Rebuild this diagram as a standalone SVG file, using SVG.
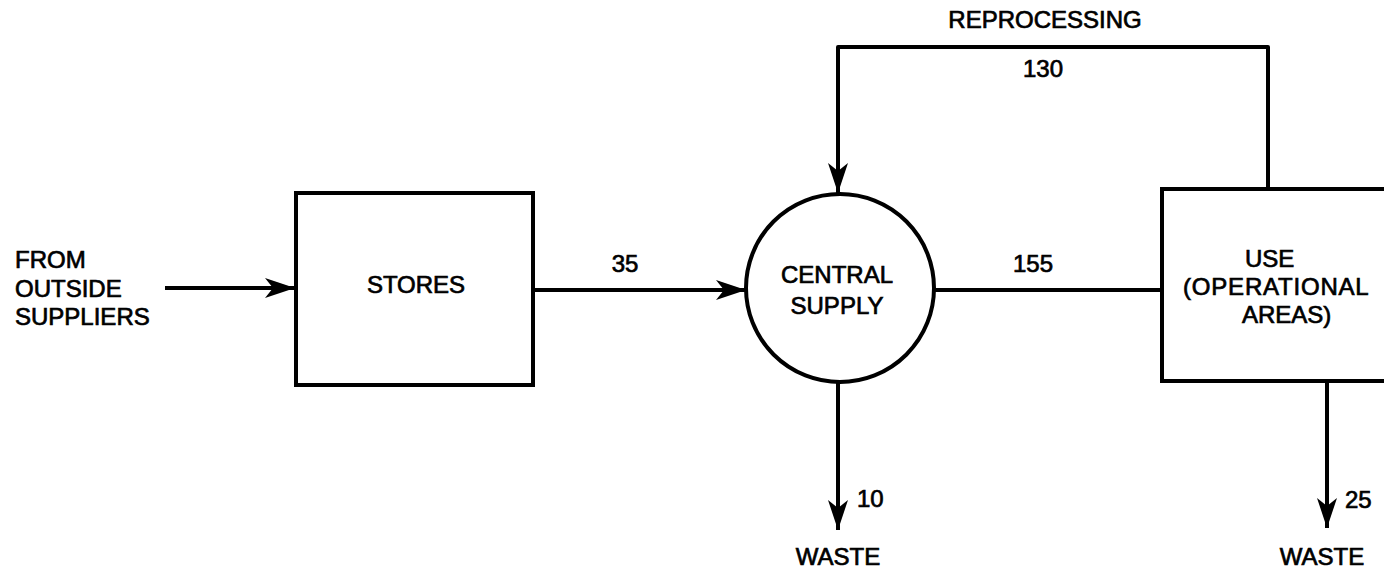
<svg xmlns="http://www.w3.org/2000/svg" width="1384" height="572" viewBox="0 0 1384 572">
<style>
  .ln { fill: none; stroke: #000; stroke-width: 4; stroke-linejoin: round; }
  .nd { fill: #fff; stroke: #000; stroke-width: 4; }
  text { font-family: "Liberation Sans", Arial, sans-serif; font-size: 24px; fill: #000; stroke: #000; stroke-width: 0.7; }
  .c { text-anchor: middle; }
</style>
<defs>
  <marker id="ah" viewBox="0 0 30 20" refX="30" refY="10" markerWidth="30" markerHeight="20" markerUnits="userSpaceOnUse" orient="auto">
    <path d="M0,0 L30,10 L0,20 L8,10 Z" fill="#000"/>
  </marker>
</defs>
<rect width="1384" height="572" fill="#fff"/>
<g id="connectors">
  <path class="ln" d="M165,288 H295" marker-end="url(#ah)"/>
  <path class="ln" d="M533,290 H746" marker-end="url(#ah)"/>
  <path class="ln" d="M932,290 H1162"/>
  <path class="ln" d="M1268,189 V47 H838 V193" marker-end="url(#ah)"/>
  <path class="ln" d="M838,382 V530" marker-end="url(#ah)"/>
  <path class="ln" d="M1327,381 V528" marker-end="url(#ah)"/>
  <text class="c" x="625" y="272">35</text>
  <text class="c" x="1033" y="272">155</text>
  <text class="c" x="1045" y="28">REPROCESSING</text>
  <text class="c" x="1043" y="77">130</text>
  <text x="857" y="507">10</text>
  <text x="1345" y="508">25</text>
</g>
<g id="source">
  <text x="15" y="268">FROM</text>
  <text x="15" y="297">OUTSIDE</text>
  <text x="15" y="325">SUPPLIERS</text>
</g>
<g id="stores">
  <rect class="nd" x="296" y="193" width="237" height="192"/>
  <text class="c" x="416" y="293">STORES</text>
</g>
<g id="central-supply">
  <circle class="nd" cx="840" cy="288" r="94"/>
  <text class="c" x="837" y="283">CENTRAL</text>
  <text class="c" x="837" y="314">SUPPLY</text>
</g>
<g id="use">
  <rect class="nd" x="1162" y="189" width="260" height="192"/>
  <text x="1245" y="267">USE</text>
  <text x="1183" y="295" letter-spacing="0.8">(OPERATIONAL</text>
  <text x="1242" y="323">AREAS)</text>
</g>
<g id="waste-1">
  <text class="c" x="838" y="565">WASTE</text>
</g>
<g id="waste-2">
  <text class="c" x="1322" y="565">WASTE</text>
</g>
</svg>
